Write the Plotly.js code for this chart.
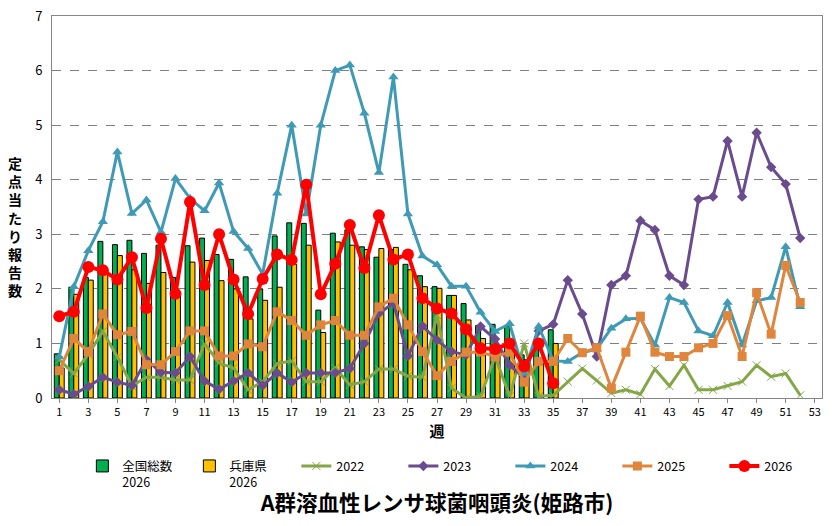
<!DOCTYPE html>
<html>
<head>
<meta charset="utf-8">
<script src="https://cdn.plot.ly/plotly-3.0.1.min.js"></script>
<style>html,body{margin:0;padding:0;background:#fff;}#chart{width:832px;height:526px;}</style>
</head>
<body>
<div id="chart"></div>
<script>
const weeks = Array.from({length: 53}, (_, i) => i + 1);
const tickWeeks = [1,3,5,7,9,11,13,15,17,19,21,23,25,27,29,31,33,35,37,39,41,43,45,47,49,51,53];

const national2026 = [0.81,2.03,2.21,2.87,2.81,2.89,2.65,2.8,2.21,2.79,2.93,2.63,2.54,2.22,2.0,2.97,3.21,3.2,1.61,3.02,3.08,2.77,2.58,2.72,2.45,2.24,2.04,1.88,1.73,1.33,1.35,1.32,0.79,1.0,1.25];
const hyogo2026 = [0.55,1.9,2.16,2.35,2.61,2.35,2.1,2.3,1.9,2.49,2.52,2.15,2.0,1.45,1.79,2.03,2.45,2.8,1.2,2.86,2.8,2.72,2.74,2.76,2.35,2.04,2.01,1.88,1.43,1.09,0.95,0.8,0.7,0.7,1.0];
const y2022 = [0.7,0.45,0.8,1.22,0.75,0.22,0.38,0.38,0.33,0.33,1.0,0.64,0.55,0.15,0.3,0.63,0.68,0.3,0.3,0.55,0.24,0.3,0.53,0.53,0.4,0.38,1.52,0.18,0.0,0.03,0.76,0.03,1.0,0.03,0.05,0.3,0.54,0.32,0.09,0.15,0.07,0.53,0.22,0.6,0.15,0.15,0.22,0.3,0.6,0.39,0.45,0.05];
const y2023 = [0.15,0.07,0.21,0.38,0.29,0.23,0.7,0.47,0.46,0.76,0.31,0.16,0.31,0.46,0.23,0.46,0.29,0.46,0.46,0.46,0.54,1.0,1.55,1.74,0.77,1.32,1.06,0.85,0.79,1.31,1.08,0.6,0.37,1.23,1.35,2.16,1.54,0.76,2.07,2.24,3.25,3.08,2.24,2.07,3.64,3.69,4.71,3.69,4.86,4.23,3.92,2.93];
const y2024 = [0.75,2.04,2.7,3.23,4.51,3.38,3.63,3.04,4.02,3.66,3.43,3.94,3.05,2.74,2.27,3.75,5.0,3.37,5.0,6.0,6.1,5.22,4.13,5.88,3.37,2.6,2.44,2.05,2.05,1.57,1.22,1.36,0.45,1.31,0.68,0.67,0.83,0.9,1.28,1.45,1.46,0.97,1.84,1.75,1.23,1.14,1.75,0.97,1.78,1.84,2.77,1.67];
const y2025 = [0.5,1.09,0.85,1.54,1.16,1.22,0.61,0.61,0.85,1.23,1.23,0.77,0.77,0.99,0.94,1.58,1.42,1.15,1.34,1.42,1.15,1.15,1.67,1.83,1.34,0.85,0.41,0.67,0.84,0.84,0.76,0.84,0.29,0.67,0.67,1.09,0.83,0.92,0.18,0.84,1.5,0.84,0.76,0.76,0.92,1.0,1.51,0.76,1.93,1.17,2.43,1.75];
const y2026 = [1.5,1.58,2.4,2.34,2.17,2.58,1.65,2.92,1.91,3.59,2.07,3.0,2.17,1.54,2.18,2.63,2.53,3.91,1.9,2.46,3.17,2.38,3.35,2.54,2.63,1.83,1.64,1.55,1.26,0.91,0.9,1.0,0.58,1.0,0.27];

const jp = '"Noto Sans CJK JP", "Noto Sans", sans-serif';
const wk = n => weeks.slice(0, n);

const traces = [
  {type:'bar', name:'全国総数<br>2026', x:wk(national2026.length), y:national2026,
   marker:{color:'#00B050', line:{color:'#000', width:1}}},
  {type:'bar', name:'兵庫県<br>2026', x:wk(hyogo2026.length), y:hyogo2026,
   marker:{color:'#FFC000', line:{color:'#000', width:1}}},
  {type:'scatter', mode:'lines+markers', name:'2022', x:wk(y2022.length), y:y2022,
   line:{color:'#84A647', width:3}, marker:{symbol:'x-thin', size:8, line:{color:'#84A647', width:1}}},
  {type:'scatter', mode:'lines+markers', name:'2023', x:wk(y2023.length), y:y2023,
   line:{color:'#6A4C8E', width:3}, marker:{symbol:'diamond', size:8, color:'#6A4C8E'}},
  {type:'scatter', mode:'lines+markers', name:'2024', x:wk(y2024.length), y:y2024,
   line:{color:'#3E9AB5', width:3}, marker:{symbol:'triangle-up', size:9, color:'#3E9AB5'}},
  {type:'scatter', mode:'lines+markers', name:'2025', x:wk(y2025.length), y:y2025,
   line:{color:'#E0853C', width:3}, marker:{symbol:'square', size:9, color:'#E0853C'}},
  {type:'scatter', mode:'lines+markers', name:'2026', x:wk(y2026.length), y:y2026,
   line:{color:'#FF0000', width:4}, marker:{symbol:'circle', size:12, color:'#FF0000'}}
];

const layout = {
  width: 832, height: 526,
  margin: {l: 52, r: 10, t: 16, b: 128, autoexpand: false},
  paper_bgcolor: '#fff', plot_bgcolor: '#fff',
  font: {family: jp, color: '#000'},
  barmode: 'group', bargap: 0.32, bargroupgap: 0,
  showlegend: true,
  title: {text: 'A群溶血性レンサ球菌咽頭炎(姫路市)', font: {family: jp, size: 21.5, weight: 'bold', color: '#000'},
          x: 0.5, xanchor: 'center', xref: 'paper', y: 0.042, yanchor: 'middle'},
  xaxis: {range: [0.5, 53.5], tickvals: tickWeeks, ticktext: tickWeeks.map(String),
          tickfont: {size: 11, family: jp}, showgrid: false, zeroline: false,
          showline: true, linecolor: '#868686', linewidth: 1, mirror: true,
          ticks: 'outside', ticklen: 4, tickcolor: '#868686',
          title: {text: '週', font: {size: 15, weight: 'bold', family: jp}, standoff: 8}},
  yaxis: {range: [0, 7], dtick: 1, tickfont: {size: 13, family: jp}, showgrid: true,
          gridcolor: '#808080', griddash: 'dash', gridwidth: 1, zeroline: false,
          showline: true, linecolor: '#868686', linewidth: 1, mirror: true,
          ticks: '', ticklabelstandoff: 6},
  legend: {orientation: 'h', xref: 'container', yref: 'container', x: 0.099, xanchor: 'left', y: 0.142, yanchor: 'top',
           font: {size: 12.5, family: jp}, valign: 'top', itemwidth: 30, entrywidth: 62,
           traceorder: 'normal', tracegroupgap: 0},
  annotations: [
    {text: '定<br>点<br>当<br>た<br>り<br>報<br>告<br>数', xref: 'paper', yref: 'paper',
     x: -0.048, y: 0.45, xanchor: 'center', yanchor: 'middle', showarrow: false,
     font: {size: 14, weight: 'bold', family: jp}}
  ]
};

Plotly.newPlot('chart', traces, layout, {displayModeBar: false, staticPlot: true});
</script>
</body>
</html>
